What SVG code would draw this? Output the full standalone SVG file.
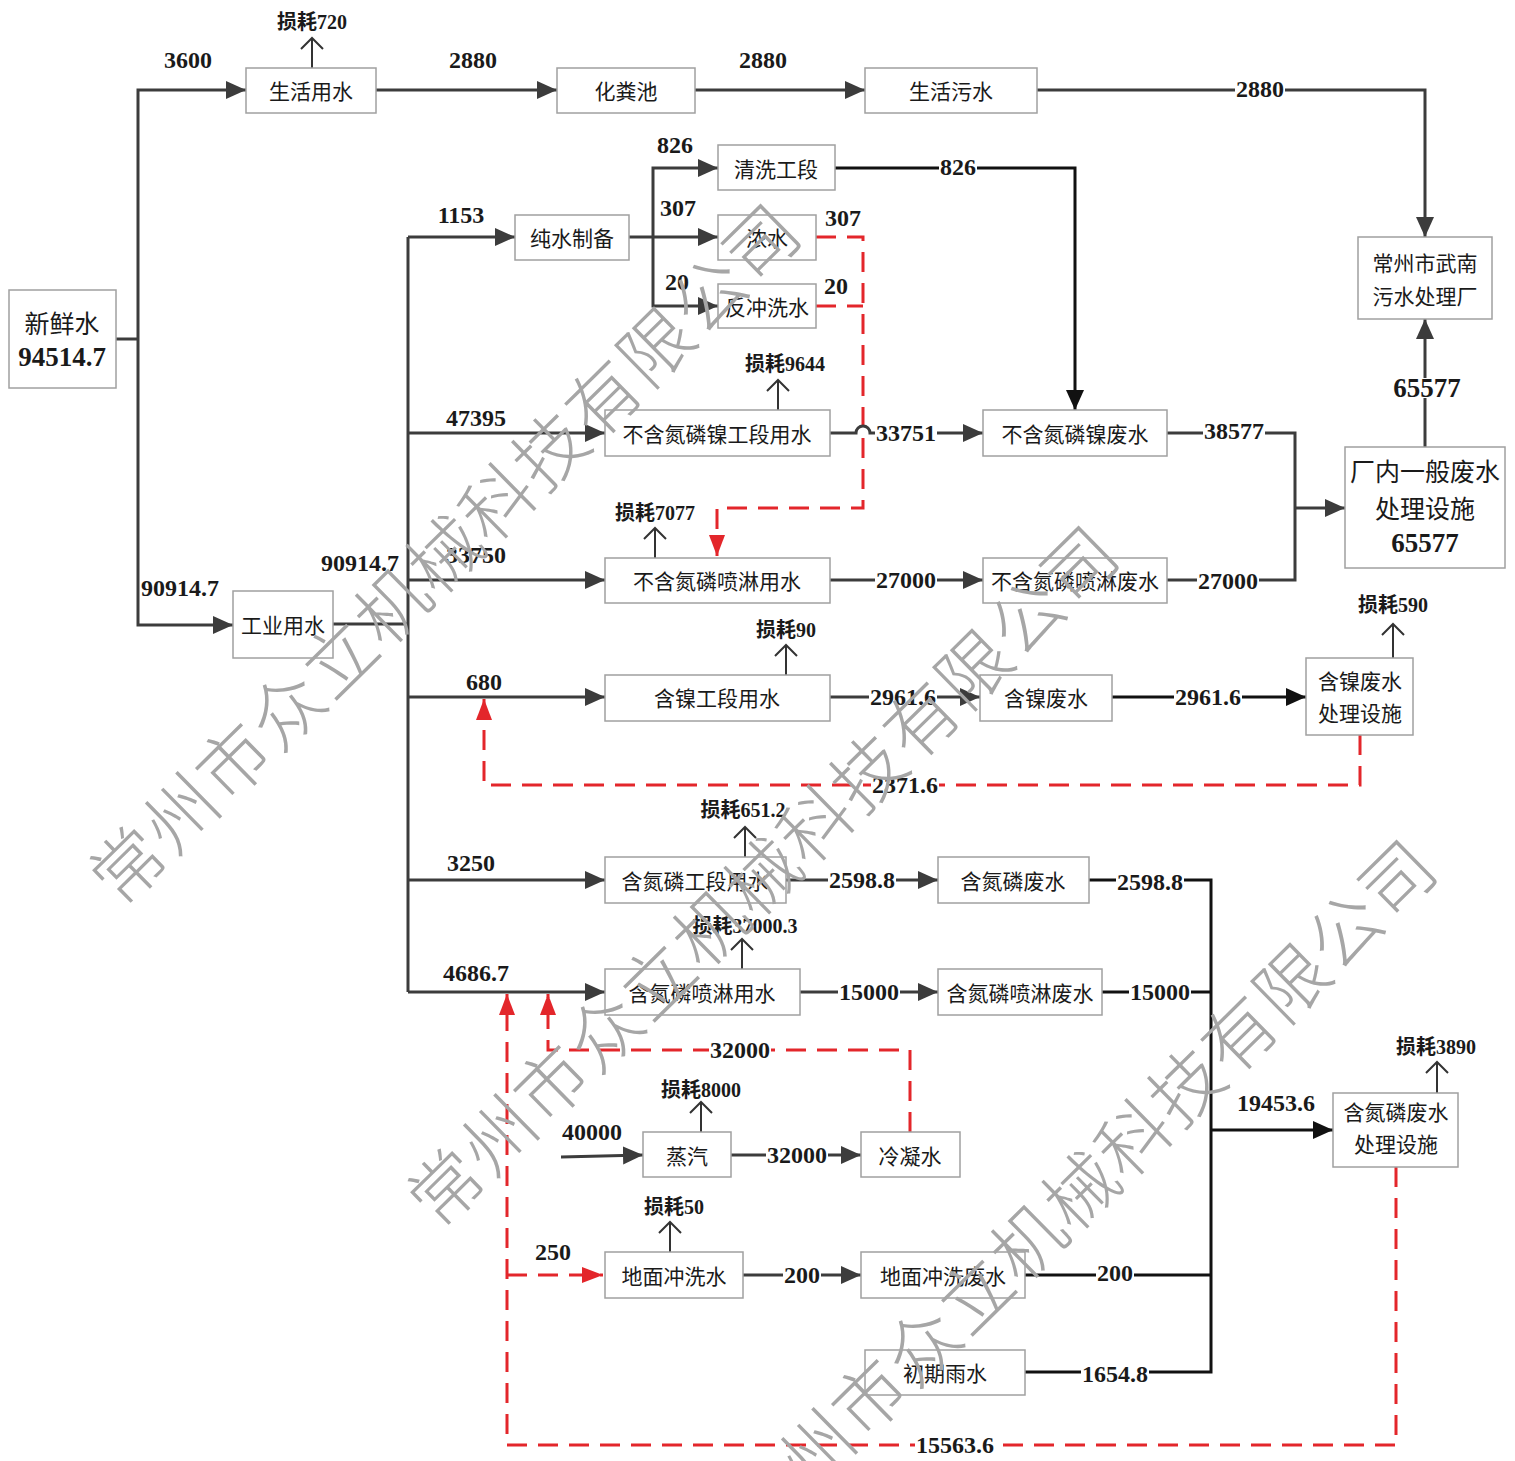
<svg xmlns="http://www.w3.org/2000/svg" width="1515" height="1461" viewBox="0 0 1515 1461">
<style>
.box{fill:#fff;stroke:#a0a0a0;stroke-width:1.5}
.bt{font-family:"Noto Sans CJK SC",sans-serif;font-size:21px;fill:#1a1a1a;text-anchor:middle;dominant-baseline:central}
.bt2{font-family:"Noto Sans CJK SC",sans-serif;font-size:25px;fill:#1a1a1a;text-anchor:middle;dominant-baseline:central}
.n{font-family:"Liberation Serif",serif;font-weight:bold;font-size:24px;fill:#1a1a1a;text-anchor:middle;dominant-baseline:central}
.nb{font-family:"Liberation Serif",serif;font-weight:bold;font-size:27px;fill:#1a1a1a;text-anchor:middle;dominant-baseline:central}
.bg{fill:#fff}
.ls{font-family:"Liberation Serif","Noto Sans CJK SC",serif;font-weight:bold;font-size:20px;fill:#1a1a1a;text-anchor:middle;dominant-baseline:central}
.ln{fill:none;stroke:#3c3c3c;stroke-width:3}
.lk{fill:none;stroke:#111;stroke-width:3}
.rd{fill:none;stroke:#e3262b;stroke-width:3;stroke-dasharray:20 11}
.lo{fill:none;stroke:#333;stroke-width:2}
.wm{font-family:"Noto Sans CJK SC",sans-serif;font-weight:300;font-size:72px;fill:#a6a6a6;text-anchor:middle;dominant-baseline:central;letter-spacing:2px}
</style>
<defs>
<marker id="ah" markerUnits="userSpaceOnUse" markerWidth="22" markerHeight="20" viewBox="0 0 22 20" refX="20" refY="10" orient="auto"><path d="M0,1 L20,10 L0,19 z" fill="#3c3c3c"/></marker>
<marker id="ak" markerUnits="userSpaceOnUse" markerWidth="22" markerHeight="20" viewBox="0 0 22 20" refX="20" refY="10" orient="auto"><path d="M0,1 L20,10 L0,19 z" fill="#111"/></marker>
<marker id="ar" markerUnits="userSpaceOnUse" markerWidth="22" markerHeight="18" viewBox="0 0 22 18" refX="21" refY="9" orient="auto"><path d="M0,1 L21,9 L0,17 z" fill="#e3262b"/></marker>
<marker id="ao" markerUnits="userSpaceOnUse" markerWidth="14" markerHeight="24" viewBox="0 0 14 24" refX="12" refY="12" orient="auto"><path d="M1,1 L12,12 L1,23" fill="none" stroke="#333" stroke-width="2"/></marker>
</defs>

<g id="connectors">
  <!-- red dashed recycle lines -->
  <path class="rd" d="M816,237 H863 V508 H717 V556" marker-end="url(#ar)"/>
  <path class="rd" d="M816,306 H863"/>
  <path class="rd" d="M1360,735 V785 H484 V699" marker-end="url(#ar)"/>
  <path class="rd" d="M910,1132 V1050 H548 V994" marker-end="url(#ar)"/>
  <path class="rd" d="M1396,1167 V1445 H507 V994" marker-end="url(#ar)"/>
  <path class="rd" d="M507,1275 H603" marker-end="url(#ar)"/>

  <!-- fresh water -->
  <path class="ln" d="M116,339 H138"/>
  <path class="ln" d="M138,339 V90 H246" marker-end="url(#ah)"/>
  <path class="ln" d="M138,339 V625 H233" marker-end="url(#ah)"/>
  <path class="ln" d="M376,90 H557" marker-end="url(#ah)"/>
  <path class="ln" d="M695,90 H865" marker-end="url(#ah)"/>
  <path class="ln" d="M1037,90 H1425 V237" marker-end="url(#ah)"/>
  <path class="ln" d="M1425,447 V319" marker-end="url(#ah)"/>

  <!-- industrial trunk -->
  <path class="ln" d="M333,624 H408"/>
  <path class="ln" d="M408,237 V992"/>
  <path class="ln" d="M408,237 H515" marker-end="url(#ah)"/>
  <path class="ln" d="M408,433 H605" marker-end="url(#ah)"/>
  <path class="ln" d="M408,580 H605" marker-end="url(#ah)"/>
  <path class="ln" d="M408,697 H605" marker-end="url(#ah)"/>
  <path class="ln" d="M408,880 H605" marker-end="url(#ah)"/>
  <path class="ln" d="M408,992 H605" marker-end="url(#ah)"/>

  <!-- pure water -->
  <path class="ln" d="M629,237 H718" marker-end="url(#ah)"/>
  <path class="ln" d="M653,237 V168 H718" marker-end="url(#ah)"/>
  <path class="ln" d="M653,237 V306 H718" marker-end="url(#ah)"/>
  <path class="lk" d="M835,168 H1075 V410" marker-end="url(#ak)"/>

  <!-- no N/P/Ni -->
  <path class="ln" d="M830,433 H856 a7,7 0 0 1 14,0 H983" marker-end="url(#ah)"/>
  <path class="ln" d="M830,580 H983" marker-end="url(#ah)"/>
  <path class="ln" d="M1167,433 H1295 V580 H1167"/>
  <path class="ln" d="M1295,508 H1345" marker-end="url(#ah)"/>

  <!-- nickel -->
  <path class="ln" d="M830,697 H980" marker-end="url(#ah)"/>
  <path class="lk" d="M1112,697 H1306" marker-end="url(#ak)"/>

  <!-- N/P -->
  <path class="ln" d="M786,880 H938" marker-end="url(#ah)"/>
  <path class="ln" d="M800,992 H938" marker-end="url(#ah)"/>
  <path class="lk" d="M1089,880 H1211 V1372 H1025"/>
  <path class="lk" d="M1102,992 H1211"/>
  <path class="lk" d="M1025,1275 H1211"/>
  <path class="lk" d="M1211,1130 H1333" marker-end="url(#ak)"/>

  <!-- steam / floor -->
  <path class="ln" d="M561,1157 L643,1155" marker-end="url(#ah)"/>
  <path class="ln" d="M731,1155 H861" marker-end="url(#ah)"/>
  <path class="ln" d="M743,1275 H861" marker-end="url(#ah)"/>

  <!-- loss arrows -->
  <path class="lo" d="M312,68 V38" marker-end="url(#ao)"/>
  <path class="lo" d="M778,410 V380" marker-end="url(#ao)"/>
  <path class="lo" d="M655,558 V528" marker-end="url(#ao)"/>
  <path class="lo" d="M786,675 V645" marker-end="url(#ao)"/>
  <path class="lo" d="M1393,658 V624" marker-end="url(#ao)"/>
  <path class="lo" d="M745,857 V827" marker-end="url(#ao)"/>
  <path class="lo" d="M742,969 V939" marker-end="url(#ao)"/>
  <path class="lo" d="M1437,1093 V1062" marker-end="url(#ao)"/>
  <path class="lo" d="M701,1132 V1102" marker-end="url(#ao)"/>
  <path class="lo" d="M670,1252 V1222" marker-end="url(#ao)"/>

  <!-- label backgrounds for labels sitting on lines -->
  <rect class="bg" x="1235" y="80" width="50" height="18"/>
  <rect class="bg" x="939" y="158" width="38" height="18"/>
  <rect class="bg" x="875" y="424" width="62" height="18"/>
  <rect class="bg" x="1203" y="422" width="62" height="18"/>
  <rect class="bg" x="1392" y="378" width="70" height="20"/>
  <rect class="bg" x="875" y="571" width="62" height="18"/>
  <rect class="bg" x="1197" y="572" width="62" height="18"/>
  <rect class="bg" x="869" y="688" width="68" height="18"/>
  <rect class="bg" x="1174" y="688" width="68" height="18"/>
  <rect class="bg" x="871" y="776" width="68" height="18"/>
  <rect class="bg" x="828" y="871" width="68" height="18"/>
  <rect class="bg" x="1116" y="873" width="68" height="18"/>
  <rect class="bg" x="838" y="983" width="62" height="18"/>
  <rect class="bg" x="1129" y="983" width="62" height="18"/>
  <rect class="bg" x="709" y="1041" width="62" height="18"/>
  <rect class="bg" x="766" y="1146" width="62" height="18"/>
  <rect class="bg" x="783" y="1266" width="38" height="18"/>
  <rect class="bg" x="1096" y="1264" width="38" height="18"/>
  <rect class="bg" x="1081" y="1365" width="68" height="18"/>
  <rect class="bg" x="915" y="1436" width="80" height="18"/>

  <!-- labels -->
  <text class="n" x="188" y="60">3600</text>
  <text class="n" x="473" y="60">2880</text>
  <text class="n" x="763" y="60">2880</text>
  <text class="n" x="1260" y="89">2880</text>
  <text class="ls" x="312" y="22">损耗720</text>
  <text class="n" x="461" y="215">1153</text>
  <text class="n" x="675" y="145">826</text>
  <text class="n" x="678" y="208">307</text>
  <text class="n" x="677" y="282">20</text>
  <text class="n" x="958" y="167">826</text>
  <text class="n" x="843" y="218">307</text>
  <text class="n" x="836" y="286">20</text>
  <text class="ls" x="785" y="364">损耗9644</text>
  <text class="n" x="476" y="418">47395</text>
  <text class="n" x="906" y="433">33751</text>
  <text class="n" x="1234" y="431">38577</text>
  <text class="nb" x="1427" y="388">65577</text>
  <text class="ls" x="655" y="513">损耗7077</text>
  <text class="n" x="360" y="563">90914.7</text>
  <text class="n" x="476" y="555">33750</text>
  <text class="n" x="906" y="580">27000</text>
  <text class="n" x="1228" y="581">27000</text>
  <text class="n" x="180" y="588">90914.7</text>
  <text class="ls" x="1393" y="605">损耗590</text>
  <text class="ls" x="786" y="630">损耗90</text>
  <text class="n" x="484" y="682">680</text>
  <text class="n" x="903" y="697">2961.6</text>
  <text class="n" x="1208" y="697">2961.6</text>
  <text class="n" x="905" y="785">2371.6</text>
  <text class="ls" x="743" y="810">损耗651.2</text>
  <text class="n" x="471" y="863">3250</text>
  <text class="n" x="862" y="880">2598.8</text>
  <text class="n" x="1150" y="882">2598.8</text>
  <text class="ls" x="745" y="926">损耗37000.3</text>
  <text class="n" x="476" y="973">4686.7</text>
  <text class="n" x="869" y="992">15000</text>
  <text class="n" x="1160" y="992">15000</text>
  <text class="n" x="740" y="1050">32000</text>
  <text class="ls" x="1436" y="1047">损耗3890</text>
  <text class="ls" x="701" y="1090">损耗8000</text>
  <text class="n" x="1276" y="1103">19453.6</text>
  <text class="n" x="592" y="1132">40000</text>
  <text class="n" x="797" y="1155">32000</text>
  <text class="ls" x="674" y="1207">损耗50</text>
  <text class="n" x="553" y="1252">250</text>
  <text class="n" x="802" y="1275">200</text>
  <text class="n" x="1115" y="1273">200</text>
  <text class="n" x="1115" y="1374">1654.8</text>
  <text class="n" x="955" y="1445">15563.6</text>
</g>

<g id="n-fresh"><rect class="box" x="9" y="290" width="107" height="98"/><text class="bt2" x="62" y="322">新鲜水</text><text class="nb" x="62" y="357">94514.7</text></g>
<g id="n-domestic"><rect class="box" x="246" y="68" width="130" height="45"/><text class="bt" x="311" y="90">生活用水</text></g>
<g id="n-septic"><rect class="box" x="557" y="68" width="138" height="45"/><text class="bt" x="626" y="90">化粪池</text></g>
<g id="n-sewage"><rect class="box" x="865" y="68" width="172" height="45"/><text class="bt" x="951" y="90">生活污水</text></g>
<g id="n-wunan"><rect class="box" x="1358" y="237" width="134" height="82"/><text class="bt" x="1425" y="262">常州市武南</text><text class="bt" x="1425" y="295">污水处理厂</text></g>
<g id="n-pure"><rect class="box" x="515" y="215" width="114" height="45"/><text class="bt" x="572" y="237">纯水制备</text></g>
<g id="n-clean"><rect class="box" x="718" y="145" width="117" height="45"/><text class="bt" x="776" y="168">清洗工段</text></g>
<g id="n-conc"><rect class="box" x="718" y="215" width="98" height="45"/><text class="bt" x="767" y="237">浓水</text></g>
<g id="n-backwash"><rect class="box" x="718" y="284" width="98" height="44"/><text class="bt" x="767" y="306">反冲洗水</text></g>
<g id="n-noNPNi-use"><rect class="box" x="605" y="410" width="225" height="46"/><text class="bt" x="717" y="433">不含氮磷镍工段用水</text></g>
<g id="n-noNPNi-waste"><rect class="box" x="983" y="410" width="184" height="46"/><text class="bt" x="1075" y="433">不含氮磷镍废水</text></g>
<g id="n-general"><rect class="box" x="1345" y="447" width="160" height="121"/><text class="bt2" x="1425" y="470">厂内一般废水</text><text class="bt2" x="1425" y="507">处理设施</text><text class="nb" x="1425" y="543">65577</text></g>
<g id="n-noNP-spray"><rect class="box" x="605" y="558" width="225" height="45"/><text class="bt" x="717" y="580">不含氮磷喷淋用水</text></g>
<g id="n-noNP-spray-waste"><rect class="box" x="983" y="558" width="184" height="45"/><text class="bt" x="1075" y="580">不含氮磷喷淋废水</text></g>
<g id="n-industrial"><rect class="box" x="233" y="591" width="100" height="67"/><text class="bt" x="283" y="624">工业用水</text></g>
<g id="n-ni-use"><rect class="box" x="605" y="675" width="225" height="46"/><text class="bt" x="717" y="697">含镍工段用水</text></g>
<g id="n-ni-waste"><rect class="box" x="980" y="675" width="132" height="46"/><text class="bt" x="1046" y="697">含镍废水</text></g>
<g id="n-ni-treat"><rect class="box" x="1306" y="658" width="107" height="77"/><text class="bt" x="1360" y="680">含镍废水</text><text class="bt" x="1360" y="712">处理设施</text></g>
<g id="n-np-use"><rect class="box" x="605" y="857" width="181" height="46"/><text class="bt" x="695" y="880">含氮磷工段用水</text></g>
<g id="n-np-waste"><rect class="box" x="938" y="857" width="151" height="46"/><text class="bt" x="1013" y="880">含氮磷废水</text></g>
<g id="n-np-spray"><rect class="box" x="605" y="969" width="195" height="46"/><text class="bt" x="702" y="992">含氮磷喷淋用水</text></g>
<g id="n-np-spray-waste"><rect class="box" x="938" y="969" width="164" height="46"/><text class="bt" x="1020" y="992">含氮磷喷淋废水</text></g>
<g id="n-np-treat"><rect class="box" x="1333" y="1093" width="125" height="74"/><text class="bt" x="1396" y="1111">含氮磷废水</text><text class="bt" x="1396" y="1143">处理设施</text></g>
<g id="n-steam"><rect class="box" x="643" y="1132" width="88" height="45"/><text class="bt" x="687" y="1155">蒸汽</text></g>
<g id="n-condensate"><rect class="box" x="861" y="1132" width="99" height="45"/><text class="bt" x="910" y="1155">冷凝水</text></g>
<g id="n-floor"><rect class="box" x="605" y="1252" width="138" height="46"/><text class="bt" x="674" y="1275">地面冲洗水</text></g>
<g id="n-floor-waste"><rect class="box" x="861" y="1252" width="164" height="46"/><text class="bt" x="943" y="1275">地面冲洗废水</text></g>
<g id="n-rain"><rect class="box" x="865" y="1350" width="160" height="45"/><text class="bt" x="945" y="1372">初期雨水</text></g>

<g id="watermark">
  <text class="wm" transform="translate(442,550) rotate(-44.5)">常州市众立机械科技有限公司</text>
  <text class="wm" transform="translate(760,872) rotate(-44.5)">常州市众立机械科技有限公司</text>
  <text class="wm" transform="translate(1078,1186) rotate(-44.5)">常州市众立机械科技有限公司</text>
</g>
</svg>
